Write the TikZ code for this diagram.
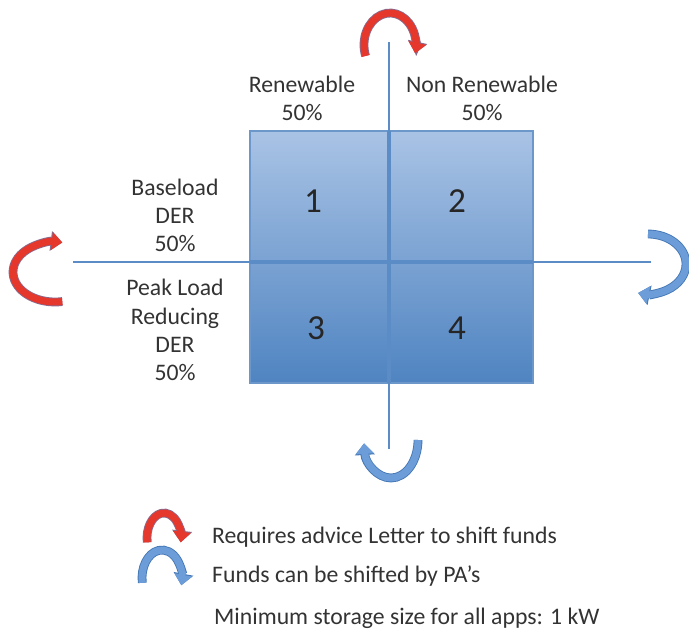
\documentclass[tikz,border=0pt]{standalone}
\usepackage{fontspec}
\setmainfont{Carlito}
\usetikzlibrary{arrows.meta}

\definecolor{quadtop}{HTML}{A9C3E5}
\definecolor{quadbot}{HTML}{4F84C1}
\definecolor{quadrim}{HTML}{6B97CB}
\definecolor{axisblue}{HTML}{5B8CC5}
\definecolor{shiftred}{HTML}{E5372B}
\definecolor{shiftblue}{HTML}{6C9DD8}
\definecolor{redrim}{HTML}{8A6A8E}
\definecolor{bluerim}{HTML}{4577B5}

\tikzset{
	axistxt/.style={align=center, font=\fontsize{13.5}{16}\selectfont, text=black!80},
	numtxt/.style={font=\fontsize{20}{22}\selectfont, text=black!85},
	legtxt/.style={anchor=west, font=\fontsize{13.5}{15}\selectfont, text=black!80},
	redturn/.style={draw=shiftred, line width=4pt, -{Triangle[length=6pt,width=10pt]},
		preaction={draw=redrim, line width=5pt, -{Triangle[length=6.6pt,width=11pt]}}},
	blueturn/.style={draw=shiftblue, line width=4pt, -{Triangle[length=6pt,width=10pt]},
		preaction={draw=bluerim, line width=5pt, -{Triangle[length=6.6pt,width=11pt]}}},
}

\begin{document}
\begin{tikzpicture}[x=0.02cm, y=-0.02cm]
		\useasboundingbox (0,0) rectangle (689,634);

		% the four quadrants
		\shade[top color=quadtop, bottom color=quadbot, draw=quadrim, line width=0.8pt] (250,131) rectangle (533,383);
		\draw[axisblue, line width=2pt] (389,131) -- (389,383);
		\draw[axisblue, line width=2pt] (250,262) -- (533,262);

		% axes
		\coordinate (ytop) at (389,42);
		\coordinate (ybot) at (389,449);
		\coordinate (xleft) at (73,262);
		\coordinate (xright) at (651,262);
		\draw[axisblue, line width=1.3pt] (ytop) -- (ybot);
		\draw[axisblue, line width=1.3pt] (xleft) -- (xright);

		\node[numtxt] (q1) at (313,201) {1};
		\node[numtxt] (q2) at (457,201) {2};
		\node[numtxt] (q3) at (316,328) {3};
		\node[numtxt] (q4) at (457,328) {4};

		\node[axistxt] (renew) at (302,98) {Renewable\\50\%};
		\node[axistxt] (nonrenew) at (482,98) {Non Renewable\\50\%};
		\node[axistxt] (base) at (175,215) {Baseload\\DER\\50\%};
		\node[axistxt] (peak) at (175,330) {Peak Load\\Reducing\\DER\\50\%};

		% turn arrows at the axis ends
		\coordinate (ctop) at (390,45);
		\coordinate (cleft) at (55,272);
		\coordinate (cright) at (648,264);
		\coordinate (cbot) at (391,440);
		\draw[redturn] (ctop) ++(200:0.52cm and 0.64cm) arc[start angle=200, end angle=-15, x radius=0.52cm, y radius=0.64cm];
		\draw[redturn] (cleft) ++(-80:0.84cm and 0.6cm) arc[start angle=-80, end angle=-280, x radius=0.84cm, y radius=0.6cm];
		\draw[blueturn] (cright) ++(90:0.76cm and 0.6cm) arc[start angle=90, end angle=-105, x radius=0.76cm, y radius=0.6cm];
		\draw[blueturn] (cbot) ++(0:0.54cm and 0.76cm) arc[start angle=0, end angle=-175, x radius=0.54cm, y radius=0.76cm];

		% legend
		\coordinate (kred) at (164,538);
		\coordinate (kblue) at (162,578);
		\draw[redturn] (kred) ++(190:0.34cm and 0.5cm) arc[start angle=190, end angle=-10, x radius=0.34cm, y radius=0.5cm];
		\draw[blueturn] (kblue) ++(190:0.4cm and 0.56cm) arc[start angle=190, end angle=-15, x radius=0.4cm, y radius=0.56cm];
		\node[legtxt] (lred) at (206,537) {Requires advice Letter to shift funds};
		\node[legtxt] (lblue) at (206,576) {Funds can be shifted by PA’s};
		\node[legtxt] (lmin) at (208,618) {Minimum storage size for all apps: 1 kW};
	\end{tikzpicture}
\end{document}
